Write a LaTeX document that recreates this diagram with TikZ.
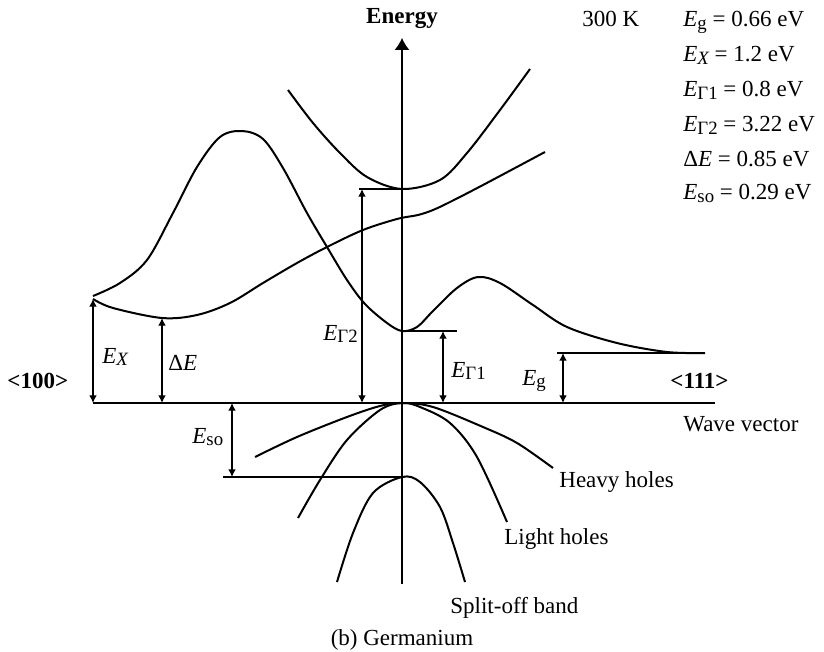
\documentclass[tikz,border=0pt]{standalone}
\usepackage{fontspec}
\setmainfont{Liberation Serif}
\usetikzlibrary{arrows.meta}
\newcommand{\En}[1]{\textit{E}\raisebox{-1.3pt}{\fontsize{9.4}{10}\selectfont #1}}
\begin{document}
\begin{tikzpicture}[
    x=0.5pt, y=-0.5pt,
    >={Latex[length=3.8pt,width=3.8pt]},
    band/.style={line width=1pt, smooth, tension=0.55},
    axis/.style={line width=0.6pt},
    gap/.style={<->, line width=0.6pt},
    level/.style={line width=0.6pt},
    every node/.style={inner sep=0pt, font=\fontsize{11.5}{13}\selectfont}
]
  \useasboundingbox (0,0) rectangle (824,652);

  % key points
  \coordinate (O)    at (402,403);
  \coordinate (top)  at (402,38);
  \coordinate (bot)  at (402,584);
  \coordinate (L)    at (93,403);
  \coordinate (R)    at (715,403);
  \coordinate (G2)   at (402,189);
  \coordinate (G1)   at (402,331);
  \coordinate (SO)   at (402,477);
  \coordinate (Xmin) at (162,318);
  \coordinate (Xend) at (93,299);
  \coordinate (Lmin) at (705,353);

  % axes
  \draw[axis, -{Latex[length=6pt,width=7.5pt]}] (bot) -- (top);
  \draw[axis] (L) -- (R);

  % conduction bands
  \draw[band] plot coordinates {(93,296) (120,283) (147,260) (173,213) (197,167)
    (220,137) (242,131) (263,139) (283,168) (307,213) (327,247) (347,280)
    (365,304) (387,323) (402,331) (417,327) (433,311) (457,288) (478,277)
    (500,283) (533,305) (567,327) (617,343) (667,352) (705,353)};
  \draw[band] plot coordinates {(93,299) (113,308) (162,318) (197,315) (230,303)
    (263,283) (297,263) (327,247) (363,230) (397,219) (418,215) (433,210)
    (450,202) (483,185) (545,152)};
  \draw[band] plot coordinates {(288,90) (313,123) (340,153) (367,177) (402,189)
    (440,180) (467,153) (500,110) (530,69)};

  % valence bands
  \draw[band] plot coordinates {(255,457) (297,437) (347,417) (380,406) (402,403)
    (433,407) (483,427) (517,443) (553,468)};
  \draw[band] plot coordinates {(298,518) (320,480) (347,440) (380,410) (402,403)
    (420,407) (450,423) (477,457) (507,522)};
  \draw[band] plot coordinates {(337,582) (353,533) (373,493) (402,477)
    (420,482) (440,507) (453,543) (465,582)};

  % level lines
  \draw[level] (359,189) -- (G2);
  \draw[level] (G1) -- (457,331);
  \draw[level] (557,353) -- (Lmin);
  \draw[level] (223,477) -- (SO);

  % gaps
  \draw[gap] (Xend) -- (L);
  \draw[gap] (Xmin) -- (Xmin |- O);
  \draw[gap] (362,189) -- (362,403);
  \draw[gap] (443,331) -- (443,403);
  \draw[gap] (563,353) -- (563,403);
  \draw[gap] (232,403) -- (232,477);

  % gap labels
  \node[anchor=base west] (lEX)  at (102,363) {\En{\itshape X}};
  \node[anchor=base west] (lDE)  at (168,370) {Δ\textit{E}};
  \node[anchor=base west] (lEG2) at (323,340) {\En{Γ2}};
  \node[anchor=base west] (lEG1) at (451,377) {\En{Γ1}};
  \node[anchor=base west] (lEg)  at (522,385) {\En{g}};
  \node[anchor=base west] (lEso) at (192,443) {\En{so}};

  % axis labels
  \node[anchor=base, font=\fontsize{11.5}{13}\selectfont\bfseries] (energy) at (402,24) {Energy};
  \node[anchor=base west, font=\fontsize{11.5}{13}\selectfont\bfseries] (k100) at (7,388) {<100>};
  \node[anchor=base west, font=\fontsize{11.5}{13}\selectfont\bfseries] (k111) at (670,388) {<111>};
  \node[anchor=base west] (wave)  at (683,431) {Wave vector};
  \node[anchor=base west] (heavy) at (559,487) {Heavy holes};
  \node[anchor=base west] (light) at (504,544) {Light holes};
  \node[anchor=base west] (split) at (450,613) {Split-off band};
  \node[anchor=base] (title) at (402,645) {(b) Germanium};

  % values
  \node[anchor=base west] (temp) at (582,27) {300 K};
  \node[anchor=base west] (vEg)  at (683,27)  {\En{g} = 0.66 eV};
  \node[anchor=base west] (vEX)  at (683,62)  {\En{\itshape X} = 1.2 eV};
  \node[anchor=base west] (vEG1) at (683,97)  {\En{Γ1} = 0.8 eV};
  \node[anchor=base west] (vEG2) at (683,132) {\En{Γ2} = 3.22 eV};
  \node[anchor=base west] (vDE)  at (683,167) {Δ\textit{E} = 0.85 eV};
  \node[anchor=base west] (vEso) at (683,200) {\En{so} = 0.29 eV};
\end{tikzpicture}
\end{document}
